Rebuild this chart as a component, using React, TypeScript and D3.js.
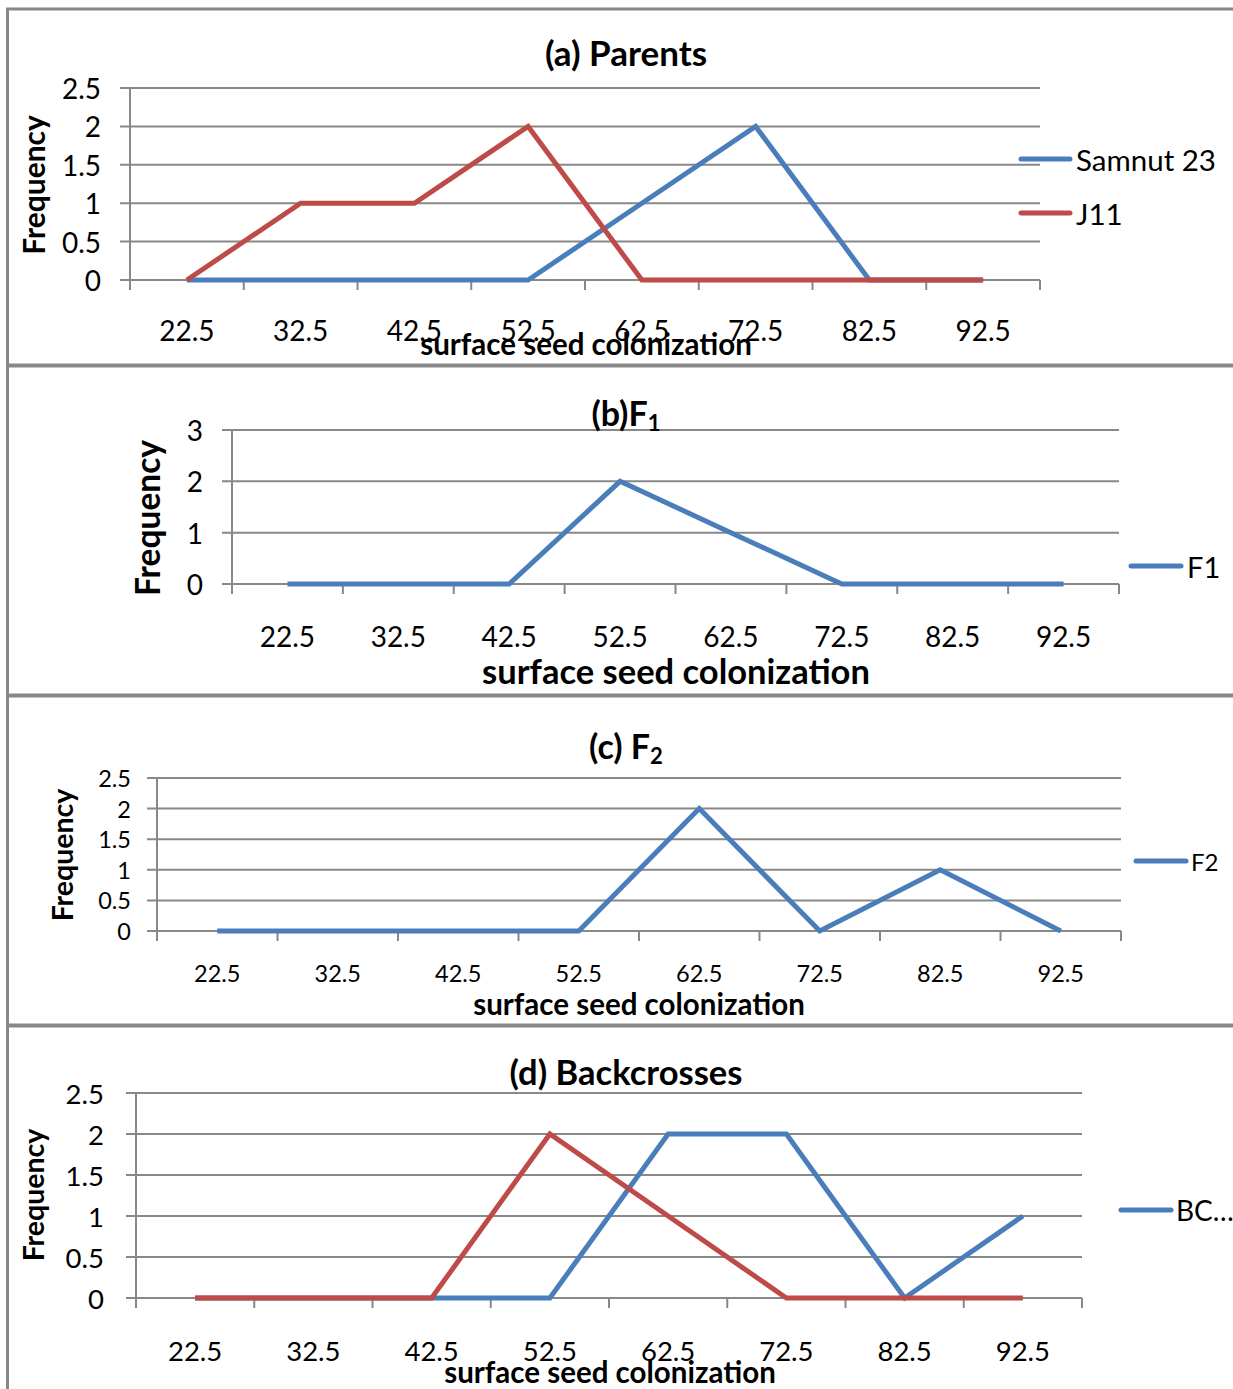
import React from 'react';
import * as d3 from 'd3';

const categories = ['22.5', '32.5', '42.5', '52.5', '62.5', '72.5', '82.5', '92.5'];
const samnut23 = [0, 0, 0, 0, 1, 2, 0, 0];
const j11 = [0, 1, 1, 2, 0, 0, 0, 0];
const f1Values = [0, 0, 0, 2, 1, 0, 0, 0];
const f2Values = [0, 0, 0, 0, 2, 0, 1, 0];
const bcBlue = [0, 0, 0, 0, 2, 2, 0, 1];
const bcRed = [0, 0, 0, 2, 1, 0, 0, 0];
const ticksHalf = [0, 0.5, 1, 1.5, 2, 2.5];
const ticksInt = [0, 1, 2, 3];

const BLUE = '#4A7EBB';
const RED = '#BE4B48';
const GRID = '#888888';
const FONT = 'Lato, "Noto Sans", sans-serif';

type Series = { name: string; values: number[]; color: string };

type PanelProps = {
  top: number;
  bottom: number;
  px0: number;
  px1: number;
  py0: number;
  py1: number;
  yMax: number;
  yTicks: number[];
  yTickX: number;
  tickFont: number;
  title: string;
  titleSub?: string;
  titleY: number;
  titleFont: number;
  yLabelX: number;
  yLabelY: number;
  yLabelFont: number;
  xLabelY: number;
  xTitleX: number;
  xTitleY: number;
  xTitleFont: number;
  series: Series[];
  legend: { name: string; color: string; y: number }[];
  legendX0: number;
  legendX1: number;
  legendTextX: number;
  legendFont: number;
};

function Panel(p: PanelProps) {
  const x = d3.scaleBand<string>().domain(categories).range([p.px0, p.px1]).padding(0);
  const y = d3.scaleLinear().domain([0, p.yMax]).range([p.py0, p.py1]);
  const bw = x.bandwidth();
  const line = d3
    .line<number>()
    .x((_, i) => (x(categories[i]) as number) + bw / 2)
    .y((d) => y(d));
  const boundaries = categories.map((c) => x(c) as number).concat([p.px1]);
  return (
    <g>
      <rect x={7.5} y={p.top} width={1240} height={p.bottom - p.top} fill="#fff" stroke={GRID} strokeWidth={3} />
      {p.yTicks.map((t) => (
        <g key={'g' + t}>
          <line x1={p.px0 - 10} x2={p.px1} y1={y(t)} y2={y(t)} stroke={GRID} strokeWidth={2} />
          <text x={p.yTickX} y={y(t)} textAnchor="end" dominantBaseline="central" fontSize={p.tickFont} fontFamily={FONT} fill="#000">
            {String(t)}
          </text>
        </g>
      ))}
      <line x1={p.px0} x2={p.px0} y1={y(p.yMax)} y2={p.py0 + 10} stroke={GRID} strokeWidth={2} />
      {boundaries.map((b, i) => (
        <line key={'b' + i} x1={b} x2={b} y1={p.py0} y2={p.py0 + 10} stroke={GRID} strokeWidth={2} />
      ))}
      {categories.map((c) => (
        <text key={'c' + c} x={(x(c) as number) + bw / 2} y={p.xLabelY} textAnchor="middle" dominantBaseline="central" fontSize={p.tickFont} fontFamily={FONT} fill="#000">
          {c}
        </text>
      ))}
      {p.series.map((s) => (
        <path key={s.name} d={line(s.values) || ''} fill="none" stroke={s.color} strokeWidth={5} strokeLinejoin="miter" />
      ))}
      <text x={626} y={p.titleY} textAnchor="middle" dominantBaseline="central" fontSize={p.titleFont} fontWeight="bold" fontFamily={FONT} fill="#000">
        {p.title}
        {p.titleSub ? (
          <tspan fontSize={p.titleFont * 0.65} dy={p.titleFont * 0.3}>
            {p.titleSub}
          </tspan>
        ) : null}
      </text>
      <text
        transform={`translate(${p.yLabelX},${p.yLabelY}) rotate(-90)`}
        textAnchor="middle"
        dominantBaseline="central"
        fontSize={p.yLabelFont}
        fontWeight="bold"
        fontFamily={FONT}
        fill="#000"
      >
        Frequency
      </text>
      <text x={p.xTitleX} y={p.xTitleY} textAnchor="middle" dominantBaseline="central" fontSize={p.xTitleFont} fontWeight="bold" fontFamily={FONT} fill="#000">
        surface seed colonization
      </text>
      {p.legend.map((l) => (
        <g key={'l' + l.name}>
          <line x1={p.legendX0} x2={p.legendX1} y1={l.y} y2={l.y} stroke={l.color} strokeWidth={5} strokeLinecap="round" />
          <text x={p.legendTextX} y={l.y} dominantBaseline="central" fontSize={p.legendFont} fontFamily={FONT} fill="#000">
            {l.name}
          </text>
        </g>
      ))}
    </g>
  );
}

export default function App() {
  return (
    <svg width={1233} height={1389} style={{ position: 'absolute', left: 0, top: 0, background: '#fff' }}>
      <rect x={0} y={0} width={1233} height={1389} fill="#fff" />
      <Panel
        top={9}
        bottom={365}
        px0={130}
        px1={1040}
        py0={280}
        py1={88}
        yMax={2.5}
        yTicks={ticksHalf}
        yTickX={101}
        tickFont={28}
        title="(a) Parents"
        titleY={52}
        titleFont={35}
        yLabelX={33}
        yLabelY={185}
        yLabelFont={30}
        xLabelY={330}
        xTitleX={586}
        xTitleY={343}
        xTitleFont={29.5}
        series={[
          { name: 'Samnut 23', values: samnut23, color: BLUE },
          { name: 'J11', values: j11, color: RED },
        ]}
        legend={[
          { name: 'Samnut 23', color: BLUE, y: 159 },
          { name: 'J11', color: RED, y: 213 },
        ]}
        legendX0={1021}
        legendX1={1070}
        legendTextX={1076}
        legendFont={29.5}
      />
      <Panel
        top={366}
        bottom={695}
        px0={232}
        px1={1119}
        py0={584}
        py1={430}
        yMax={3}
        yTicks={ticksInt}
        yTickX={203}
        tickFont={28}
        title="(b)F"
        titleSub="1"
        titleY={412}
        titleFont={34}
        yLabelX={147}
        yLabelY={518}
        yLabelFont={33.5}
        xLabelY={636}
        xTitleX={676}
        xTitleY={670}
        xTitleFont={34.5}
        series={[{ name: 'F1', values: f1Values, color: BLUE }]}
        legend={[{ name: 'F1', color: BLUE, y: 566 }]}
        legendX0={1131}
        legendX1={1181}
        legendTextX={1187}
        legendFont={29}
      />
      <Panel
        top={696}
        bottom={1025}
        px0={157}
        px1={1121}
        py0={931}
        py1={778}
        yMax={2.5}
        yTicks={ticksHalf}
        yTickX={131}
        tickFont={23.5}
        title="(c) F"
        titleSub="2"
        titleY={745}
        titleFont={34}
        yLabelX={62}
        yLabelY={855}
        yLabelFont={28.5}
        xLabelY={973}
        xTitleX={639}
        xTitleY={1003}
        xTitleFont={29.5}
        series={[{ name: 'F2', values: f2Values, color: BLUE }]}
        legend={[{ name: 'F2', color: BLUE, y: 861 }]}
        legendX0={1136}
        legendX1={1186}
        legendTextX={1191}
        legendFont={24}
      />
      <Panel
        top={1026}
        bottom={1400}
        px0={136}
        px1={1082}
        py0={1298}
        py1={1093}
        yMax={2.5}
        yTicks={ticksHalf}
        yTickX={104}
        tickFont={27.5}
        title="(d) Backcrosses"
        titleY={1071}
        titleFont={34.5}
        yLabelX={33}
        yLabelY={1195}
        yLabelFont={28.5}
        xLabelY={1350}
        xTitleX={610}
        xTitleY={1371}
        xTitleFont={29.5}
        series={[
          { name: 'BC blue', values: bcBlue, color: BLUE },
          { name: 'BC red', values: bcRed, color: RED },
        ]}
        legend={[{ name: 'BC…', color: BLUE, y: 1210 }]}
        legendX0={1121}
        legendX1={1171}
        legendTextX={1176}
        legendFont={28}
      />
    </svg>
  );
}
